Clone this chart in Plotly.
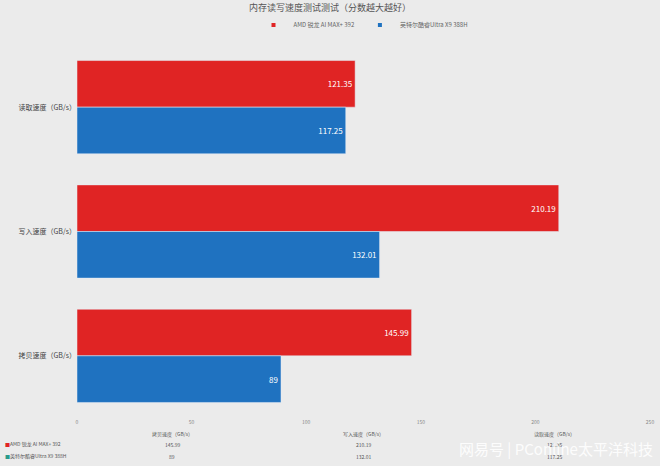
import plotly.graph_objects as go

categories = ["读取速度（GB/s）", "写入速度（GB/s）", "拷贝速度（GB/s）"]
amd = [121.35, 210.19, 145.99]
intel = [117.25, 132.01, 89]
series_names = ["AMD 锐龙 AI MAX+ 392", "英特尔酷睿Ultra X9 388H"]
table_cols = ["拷贝速度（GB/s）", "写入速度（GB/s）", "读取速度（GB/s）"]
amd_tbl = ["145.99", "210.19", "121.35"]
intel_tbl = ["89", "132.01", "117.25"]
ticks = [0, 50, 100, 150, 200, 250]

RED = "#e02424"
BLUE = "#1f72c0"
font = "Noto Sans CJK SC"
W, H, L, R, T, B = 660, 466, 77, 10, 36, 48

fig = go.Figure()
fig.add_trace(go.Bar(y=categories, x=amd, orientation="h", name=series_names[0],
                     marker_color=RED, text=[f"{v:g}" for v in amd], textposition="inside",
                     insidetextanchor="end", textfont=dict(color="white", size=8),
                     showlegend=False))
fig.add_trace(go.Bar(y=categories, x=intel, orientation="h", name=series_names[1],
                     marker_color=BLUE, text=[f"{v:g}" for v in intel], textposition="inside",
                     insidetextanchor="end", textfont=dict(color="white", size=8),
                     showlegend=False))
for n, c in zip(series_names, [RED, BLUE]):
    fig.add_trace(go.Scatter(x=[None], y=[None], mode="markers", name=n,
                             marker=dict(symbol="square", size=4, color=c)))

fig.update_layout(
    width=W, height=H, barmode="group", bargap=0.25, bargroupgap=0,
    paper_bgcolor="#ebebeb", plot_bgcolor="#ebebeb",
    font=dict(family=font, size=8, color="#444"),
    margin=dict(l=L, r=R, t=T, b=B),
    title=dict(text="内存读写速度测试测试（分数越大越好）", x=0.5, y=0.99, yanchor="top",
               font=dict(size=9, color="#555")),
    legend=dict(orientation="h", x=0.5, xanchor="center", y=1.015, yanchor="bottom",
                font=dict(size=6, color="#666"), bgcolor="rgba(0,0,0,0)"),
    xaxis=dict(range=[0, 250], tickvals=ticks, showgrid=False, zeroline=False,
               tickfont=dict(size=5, color="#888"), showline=False, automargin=False),
    yaxis=dict(autorange="reversed", showgrid=False, tickfont=dict(size=7, color="#444"),
               ticks="", showline=False, automargin=False),
)

def px2paper(px, py):
    return (px - L) / (W - L - R), (H - B - py) / (H - T - B)

ann = []
centers = [172, 363, 554]
for c, h, a, i in zip(centers, table_cols, amd_tbl, intel_tbl):
    for txt, yy in ((h, 434), (a, 445), (i, 457)):
        x, y = px2paper(c, yy)
        ann.append(dict(text=txt, x=x, y=y, xref="paper", yref="paper",
                        xanchor="center", yanchor="middle", showarrow=False,
                        font=dict(size=5, color="#555")))
for name, col, yy in ((series_names[0], RED, 445), (series_names[1], "#2a9a8a", 457)):
    x, y = px2paper(3, yy)
    ann.append(dict(text=f"<span style='color:{col}'>■</span>{name}", x=x, y=y,
                    xref="paper", yref="paper", xanchor="left", yanchor="middle",
                    showarrow=False, font=dict(size=5, color="#555")))
x, y = px2paper(655, 449)
ann.append(dict(text="网易号 | PConline太平洋科技", x=x, y=y, xref="paper",
                yref="paper", xanchor="right", yanchor="middle", showarrow=False,
                font=dict(size=15, color="rgba(255,255,255,0.9)")))
fig.update_layout(annotations=ann)

fig.write_html("out.html", config={"displayModeBar": False},
               post_script="document.body.style.margin='0';")
